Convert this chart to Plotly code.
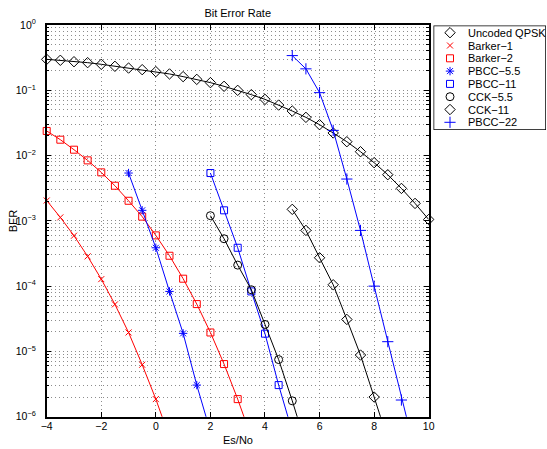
import plotly.graph_objects as go

# ---- data: BER versus Es/No (dB) ----
esno_qpsk = [-4, -3.5, -3, -2.5, -2, -1.5, -1, -0.5, 0, 0.5, 1, 1.5, 2, 2.5, 3, 3.5,
             4, 4.5, 5, 5.5, 6, 6.5, 7, 7.5, 8, 8.5, 9, 9.5, 10]
ber_qpsk = [0.298, 0.288, 0.274, 0.265, 0.25, 0.233, 0.219, 0.207, 0.193, 0.178,
            0.162, 0.147, 0.131, 0.115, 0.0998, 0.0857, 0.0726, 0.0594, 0.0481,
            0.0385, 0.0297, 0.0222, 0.0163, 0.01146, 0.00778, 0.00509, 0.00314,
            0.00185, 0.00105]

esno_barker1 = [-4, -3.5, -3, -2.5, -2, -1.5, -1, -0.5, 0, 0.5]
ber_barker1 = [2.05e-3, 1.13e-3, 5.92e-4, 2.86e-4, 1.28e-4, 5.25e-5, 1.95e-5,
               6.25e-6, 1.86e-6, 4.8e-7]

esno_barker2 = [-4, -3.5, -3, -2.5, -2, -1.5, -1, -0.5, 0, 0.5, 1, 1.5, 2, 2.5, 3, 3.5]
ber_barker2 = [0.0238, 0.0175, 0.0123, 8.44e-3, 5.53e-3, 3.45e-3, 2.03e-3, 1.16e-3,
               5.99e-4, 2.92e-4, 1.30e-4, 5.31e-5, 1.95e-5, 6.4e-6, 1.86e-6, 4.8e-7]

esno_pbcc55 = [-1, -0.5, 0, 0.5, 1, 1.5, 2]
ber_pbcc55 = [5.4e-3, 1.45e-3, 3.87e-4, 8.3e-5, 1.89e-5, 3.05e-6, 5.9e-7]

esno_pbcc11 = [2, 2.5, 3, 3.5, 4, 4.5, 5]
ber_pbcc11 = [5.4e-3, 1.45e-3, 3.87e-4, 8.3e-5, 1.87e-5, 3.05e-6, 5.9e-7]

esno_cck55 = [2, 2.5, 3, 3.5, 4, 4.5, 5, 5.5]
ber_cck55 = [1.2e-3, 5.32e-4, 2.1e-4, 8.8e-5, 2.59e-5, 7.5e-6, 1.75e-6, 3.7e-7]

esno_cck11 = [5, 5.5, 6, 6.5, 7, 7.5, 8, 8.5]
ber_cck11 = [1.5e-3, 7.14e-4, 2.72e-4, 1.05e-4, 3.09e-5, 8.8e-6, 2.0e-6, 4.5e-7]

esno_pbcc22 = [5, 5.5, 6, 6.5, 7, 7.5, 8, 8.5, 9, 9.5]
ber_pbcc22 = [0.34, 0.213, 0.092, 0.0243, 4.37e-3, 7.14e-4, 1.0e-4, 1.41e-5, 1.8e-6, 2.9e-7]

series_names = ["Uncoded QPSK", "Barker\u22121", "Barker\u22122", "PBCC\u22125.5",
                "PBCC\u221211", "CCK\u22125.5", "CCK\u221211", "PBCC\u221222"]

y_tick_vals = [1e-6, 1e-5, 1e-4, 1e-3, 1e-2, 1e-1, 1]
y_tick_text = ["10<sup>\u22126</sup>", "10<sup>\u22125</sup>", "10<sup>\u22124</sup>",
               "10<sup>\u22123</sup>", "10<sup>\u22122</sup>", "10<sup>\u22121</sup>",
               "10<sup>0</sup>"]

# ---- styling ----
BLACK, RED, BLUE = "#000000", "#ff0000", "#0000ff"
styles = [
    (esno_qpsk, ber_qpsk, BLACK, "diamond-open", 8),
    (esno_barker1, ber_barker1, RED, "x-thin-open", 6),
    (esno_barker2, ber_barker2, RED, "square-open", 7),
    (esno_pbcc55, ber_pbcc55, BLUE, "asterisk-open", 7),
    (esno_pbcc11, ber_pbcc11, BLUE, "square-open", 7),
    (esno_cck55, ber_cck55, BLACK, "circle-open", 8),
    (esno_cck11, ber_cck11, BLACK, "diamond-open", 8),
    (esno_pbcc22, ber_pbcc22, BLUE, "cross-thin-open", 8),
]

W, H = 547, 449
# plot box in pixels
PL, PR, PT, PB = 46.7, 428.7, 25.0, 416.7
# legend box in pixels
LL, LR, LT, LB = 433.5, 546.0, 25.5, 130.0

FONT = "Liberation Sans, Arial, Helvetica, sans-serif"

fig = go.Figure()

Y_MIN = 1e-6
for (x, y, color, sym, size), name in zip(styles, series_names):
    fig.add_trace(go.Scatter(
        x=x, y=y, mode="lines", line=dict(color=color, width=1),
        showlegend=False, hoverinfo="skip", name=name))
    xs = [a for a, b in zip(x, y) if b >= Y_MIN]
    ys = [b for b in y if b >= Y_MIN]
    fig.add_trace(go.Scatter(
        x=xs, y=ys, mode="markers", cliponaxis=False, showlegend=False, name=name,
        marker=dict(symbol=sym, size=size, color=color, line=dict(color=color, width=1))))

# legend drawn in its own pixel-scaled axes
row_y0, row_step = 32.7, 12.8
leg_y = [row_y0 + i * row_step for i in range(len(series_names))]
for i, ((_, _, color, sym, size), name) in enumerate(zip(styles, series_names)):
    fig.add_trace(go.Scatter(
        x=[450], y=[leg_y[i]], xaxis="x2", yaxis="y2", mode="markers",
        showlegend=False, hoverinfo="skip", cliponaxis=False,
        marker=dict(symbol=sym, size=size, color=color, line=dict(color=color, width=1))))
    fig.add_annotation(x=465.5, y=leg_y[i], xref="x2", yref="y2", text=name,
                       showarrow=False, xanchor="left", yanchor="middle",
                       font=dict(family=FONT, size=11, color="#000"))

fig.add_shape(type="rect", xref="x2", yref="y2", x0=LL, x1=LR, y0=LT, y1=LB,
              line=dict(color="#000", width=1.5), fillcolor="rgba(0,0,0,0)", layer="above")

# axis titles
fig.add_annotation(text="Es/No", xref="paper", yref="paper",
                   x=(PL + PR) / 2 / W, y=1 - 440 / H, xanchor="center", yanchor="middle",
                   showarrow=False, font=dict(family=FONT, size=11, color="#000"))
fig.add_annotation(text="BER", xref="paper", yref="paper", textangle=-90,
                   x=13.3 / W, y=1 - 221 / H, xanchor="center", yanchor="middle",
                   showarrow=False, font=dict(family=FONT, size=11, color="#000"))

grid = dict(gridcolor="#8c8c8c", gridwidth=1, griddash="1px,3px")

fig.update_layout(
    template="none",
    width=W, height=H, margin=dict(l=0, r=0, t=0, b=0, pad=0),
    paper_bgcolor="white", plot_bgcolor="white",
    font=dict(family=FONT, size=11, color="#000"),
    showlegend=False,
    xaxis=dict(domain=[PL / W, PR / W], range=[-4, 10], dtick=2, tick0=0,
               automargin=False,
               showgrid=True, **grid, zeroline=False,
               showline=True, linecolor="#000", linewidth=1.5, mirror="allticks",
               ticks="inside", ticklen=5, tickcolor="#000", tickwidth=1,
               ticklabelstandoff=-1,
               tickfont=dict(family=FONT, size=10.5)),
    yaxis=dict(domain=[1 - PB / H, 1 - PT / H], type="log", range=[-6, 0],
               automargin=False,
               tickvals=y_tick_vals, ticktext=y_tick_text,
               showgrid=True, **grid, zeroline=False,
               showline=True, linecolor="#000", linewidth=1.5, mirror="allticks",
               ticks="inside", ticklen=5, tickcolor="#000", tickwidth=1,
               ticklabelstandoff=7,
               tickfont=dict(family=FONT, size=10.5),
               minor=dict(dtick="D1", showgrid=True, gridcolor="#8c8c8c",
                          griddash="1px,3px", gridwidth=1,
                          ticks="inside", ticklen=3, tickcolor="#000")),
    xaxis2=dict(domain=[LL / W, LR / W], range=[LL, LR], visible=False,
                fixedrange=True, automargin=False, anchor="y2"),
    yaxis2=dict(domain=[1 - LB / H, 1 - LT / H], range=[LB, LT], visible=False,
                fixedrange=True, automargin=False, anchor="x2"),
    title=dict(text="Bit Error Rate", x=(PL + PR) / 2 / W, xanchor="center",
               y=1 - 13 / H, yanchor="middle", font=dict(family=FONT, size=11)),
)

fig.write_html("out.html")
